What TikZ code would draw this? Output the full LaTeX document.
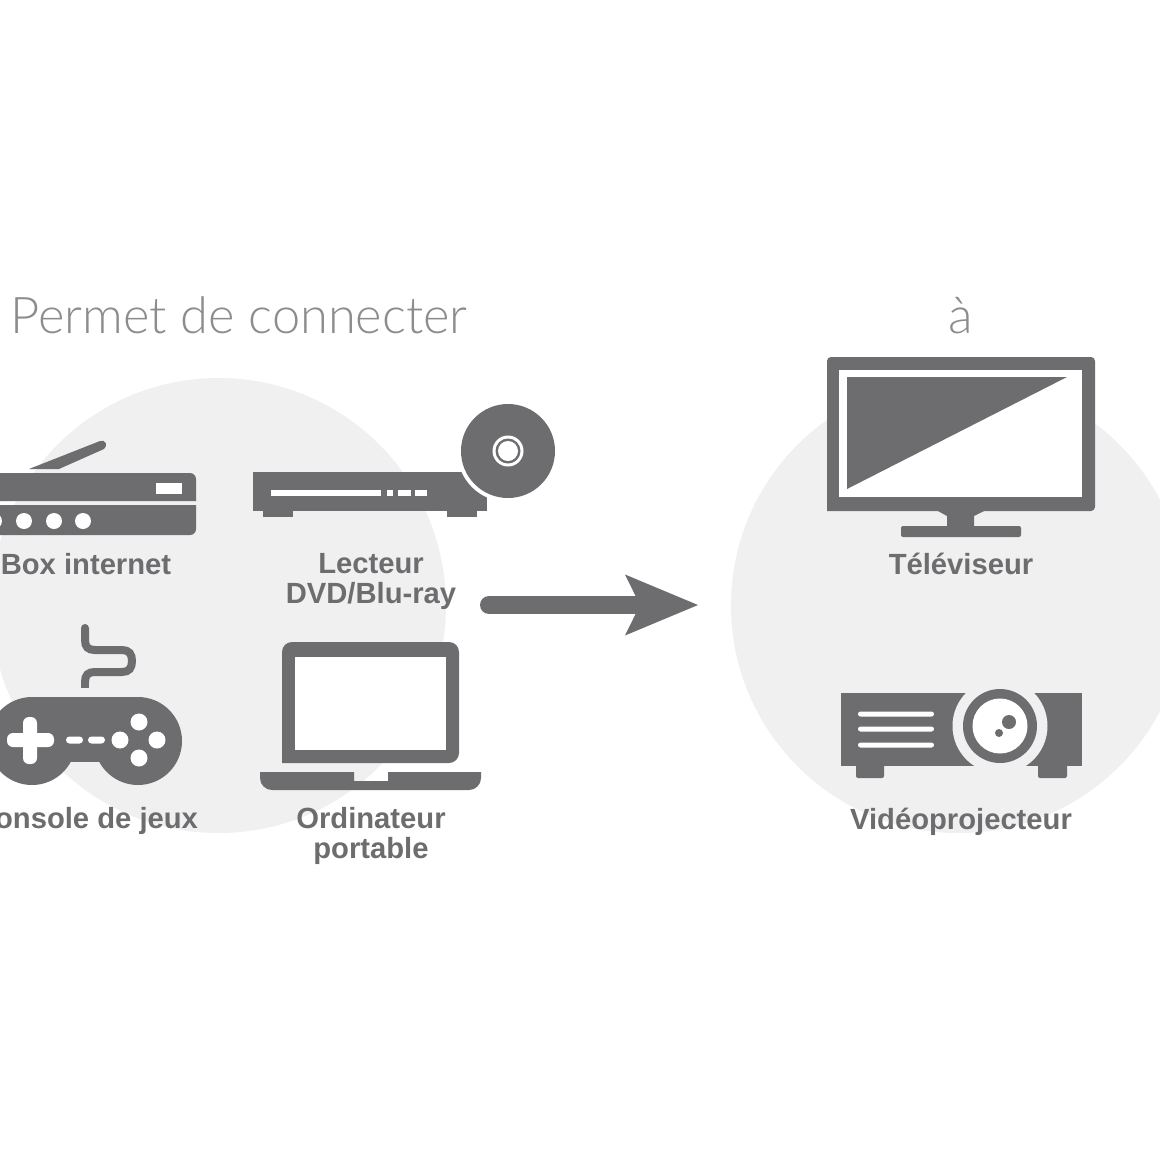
\documentclass[tikz,border=0pt]{standalone}
\usepackage{fontspec}
\setmainfont{Liberation Sans}
\newfontfamily\thinfont{Lato Light}
\usetikzlibrary{arrows.meta}
\definecolor{disc}{HTML}{F0F0F1}
\definecolor{ink}{HTML}{6D6D6F}
\definecolor{titleink}{HTML}{8C8C8E}
\tikzset{
  backdisc/.style={fill=disc},
  icon/.style={fill=ink},
  hole/.style={fill=white},
  label/.style={text=ink,font=\fontsize{29.2}{30}\selectfont\bfseries,align=center,inner sep=0pt},
  heading/.style={text=titleink,font=\fontsize{50.6}{54}\selectfont\thinfont,inner sep=0pt,anchor=base},
  bigarrow/.style={draw=ink,line width=18pt,line cap=round,-{Stealth[length=73pt 0 0,width=61pt 0 0,inset=15pt 0 0,sharp,line width=0pt]}},
}
\begin{document}
\begin{tikzpicture}[x=1pt,y=-1pt]
\useasboundingbox (0,0) rectangle (1160,1160);
\fill[white] (0,0) rectangle (1160,1160);
% background discs
\fill[backdisc] (218.5,605.5) circle[radius=227.5pt];
\fill[backdisc] (958.5,605.5) circle[radius=227.5pt];
% headings
\node[heading] (title) at (239,333) {Permet de connecter};
\node[heading] (a) at (961,333) {à};
% router
\fill[icon] (29,469) -- (59,469) -- (104,449) .. controls (108,446) and (106,439) .. (100,441) -- cycle;
\fill[icon] (196,501) [rounded corners=6pt] -- (196,473) -- (-10,473) [sharp corners] -- (-10,501) -- cycle;
\fill[icon] (-10,505) [sharp corners] -- (196,505) [rounded corners=6pt] -- (196,535) -- (-10,535) [sharp corners] -- cycle;
\fill[hole] (156,483) rectangle (182,494);
\foreach \x in {-6,24,54,83} \fill[hole] (\x,521) circle[radius=8pt];
\node[label,anchor=base] (box) at (86,574) {Box internet};
% dvd player
\fill[icon] (253,472) rectangle (487,511);
\fill[icon] (263,511) rectangle (293,517);
\fill[icon] (447,511) rectangle (477,517);
\fill[hole] (508,451) circle[radius=51pt];
\fill[icon] (508,451) circle[radius=47pt];
\fill[hole] (508,451) circle[radius=15.5pt];
\fill[icon] (508,451) circle[radius=12.5pt];
\fill[hole] (508,451) circle[radius=10pt];
\fill[hole] (271,490) rectangle (381,496);
\fill[hole] (387,490) rectangle (393,496);
\fill[hole] (398,490) rectangle (411,496);
\fill[hole] (415,490) rectangle (427,496);
\node[label] (dvd) at (371,581) {Lecteur\\DVD/Blu-ray};
% gamepad
\draw[ink,line width=8pt,line cap=round] (85,628) -- (85,640) .. controls (85,647) and (88,650) .. (95,650) -- (122,650) .. controls (129,650) and (132,654) .. (132,661) .. controls (132,668) and (129,672) .. (122,672) -- (95,672) .. controls (88,672) and (85,675) .. (85,682);
\draw[ink,line width=8pt] (85,680) -- (85,688);
\fill[icon] (32,741) circle[radius=44pt];
\fill[icon] (138,741) circle[radius=44pt];
\fill[icon] (32,697) rectangle (138,762);
\fill[hole,rounded corners=6pt] (7,733) rectangle (54,747);
\fill[hole,rounded corners=6pt] (23,717) rectangle (37,764);
\fill[hole,rounded corners=3.5pt] (66,736.5) rectangle (83,743.5);
\fill[hole,rounded corners=3.5pt] (88,736.5) rectangle (105,743.5);
\foreach \x/\y in {120/740,139/722,157/740,139/758} \fill[hole] (\x,\y) circle[radius=8.5pt];
\node[label,anchor=base] (console) at (86,828) {Console de jeux};
% laptop
\fill[icon] (282,763) [rounded corners=10pt] -- (282,642) -- (459,642) -- (459,763) [sharp corners] -- cycle;
\fill[hole] (295,657) rectangle (446,750);
\fill[icon] (260,772) -- (354,772) -- (354,781) -- (388,781) -- (388,772) -- (481,772) [rounded corners=12pt] -- (481,790) -- (260,790) [sharp corners] -- cycle;
\node[label] (laptop) at (371,835.5) {Ordinateur\\portable};
% television
\fill[icon] (827,511) [rounded corners=4pt] -- (827,357) -- (1095,357) -- (1095,511) [sharp corners] -- cycle;
\fill[hole] (839,370) rectangle (1082,497);
\fill[icon] (847,377) -- (1067,377) -- (847,489) -- cycle;
\fill[icon] (938,511) -- (984,511) -- (974,516) -- (974,527) -- (947,527) -- (947,516) -- cycle;
\fill[icon,rounded corners=2pt] (901,526) rectangle (1021,537);
\node[label,anchor=base] (tv) at (961,574) {Téléviseur};
% projector
\fill[icon] (841,693) rectangle (1082,766);
\fill[icon,rounded corners=2pt] (856,760) rectangle (884,778);
\fill[icon,rounded corners=2pt] (1038,760) rectangle (1067,778);
\begin{scope}
\clip (930,680) rectangle (1082,766.5);
\fill[backdisc] (1000,726) circle[radius=47.5pt];
\end{scope}
\fill[icon] (1000,726) circle[radius=37pt];
\fill[hole] (1000,726) circle[radius=27.5pt];
\fill[icon] (1009,722) circle[radius=7pt];
\fill[icon] (999,733) circle[radius=4pt];
\foreach \y in {714,729,745} \fill[hole,rounded corners=2.5pt] (858,\y-2.5) rectangle (934,\y+2.5);
\node[label,anchor=base] (proj) at (961,829) {Vidéoprojecteur};
% arrow
\coordinate (arrowfrom) at (489,605);
\coordinate (arrowto) at (698,605);
\draw[bigarrow] (arrowfrom) -- (arrowto);
\end{tikzpicture}
\end{document}
